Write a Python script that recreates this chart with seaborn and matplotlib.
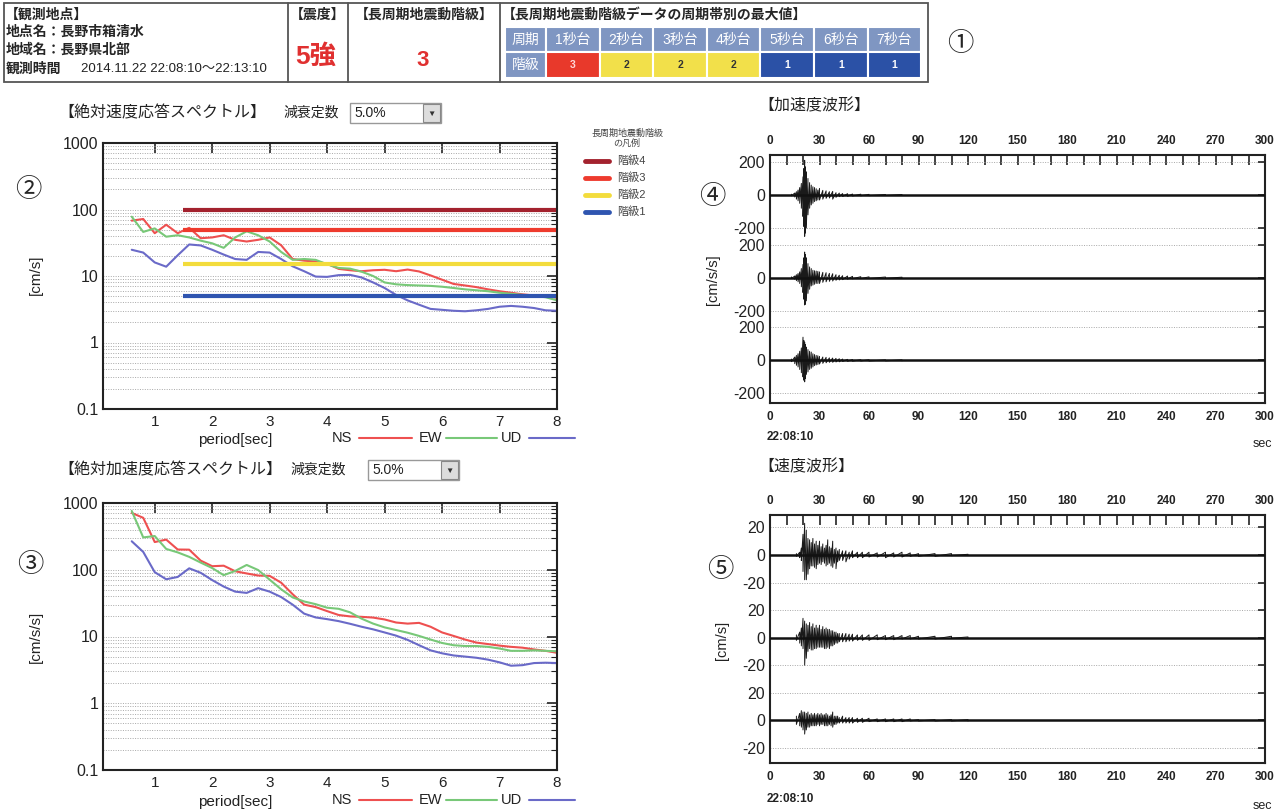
import matplotlib
matplotlib.use('Agg')
import matplotlib.pyplot as plt
import seaborn as sns
import pandas as pd
from matplotlib.patches import Rectangle
from matplotlib.ticker import LogLocator, NullFormatter

# ---- header info ----
station_lines = ['地点名：長野市箱清水', '地域名：長野県北部']
obs_time = '2014.11.22 22:08:10～22:13:10'
shindo = '5強'
lp_grade = '3'
bands = ['1秒台', '2秒台', '3秒台', '4秒台', '5秒台', '6秒台', '7秒台']
band_grades = [3, 2, 2, 2, 1, 1, 1]

# ---- response spectra (period in sec) ----
periods = [0.6, 0.8, 1.0, 1.2, 1.4, 1.6, 1.8, 2.0, 2.2, 2.4, 2.6, 2.8, 3.0, 3.2, 3.4, 3.6, 3.8, 4.0, 4.2,
           4.4, 4.6, 4.8, 5.0, 5.2, 5.4, 5.6, 5.8, 6.0, 6.2, 6.4, 6.6, 6.8, 7.0, 7.2, 7.4, 7.6, 7.8, 8.0]
vel_ns = [68, 72, 44, 59, 44, 53, 37, 38, 41, 35, 33, 35, 38, 29, 18, 17, 16.5, 15.3, 12.8, 12.2,
          11.8, 12.2, 12.4, 11.8, 12.5, 11.7, 10.2, 8.8, 7.6, 7.2, 6.8, 6.3, 5.9, 5.6, 5.3, 5.1, 5.0, 4.7]
vel_ew = [78, 46, 52, 39, 41, 38, 34, 31, 26.5, 38, 47, 41, 33, 23, 17.5, 18, 17.5, 15, 13.2, 12.9,
          11.6, 10, 8.0, 7.5, 7.3, 7.2, 7.1, 6.9, 6.6, 6.3, 6.1, 5.9, 5.6, 5.4, 5.2, 5.0, 4.8, 4.3]
vel_ud = [24.8, 22.5, 16, 13.8, 20.5, 29.8, 28.8, 24.8, 21, 18, 17.5, 23, 22.5, 18, 14, 11.8, 9.8, 9.7, 10.3, 10.4,
          9.5, 8.0, 6.6, 5.2, 4.3, 3.7, 3.2, 3.1, 3.0, 2.95, 3.05, 3.2, 3.45, 3.55, 3.45, 3.3, 3.05, 3.0]
acc_ns = [710, 600, 260, 283, 201, 200, 137, 113, 115, 95, 88, 82, 81, 64, 43, 30, 27.6, 24, 21, 20,
          19.7, 19.2, 18, 16.2, 15.6, 16, 14, 11.5, 10.2, 9.0, 8.1, 7.7, 7.3, 7.0, 6.8, 6.4, 6.1, 5.7]
acc_ew = [760, 305, 320, 205, 182, 156, 128, 106, 83, 96, 118, 99, 71, 51, 38.5, 33.5, 30.5, 27, 26, 23,
          18.5, 15.6, 13.7, 12.5, 11.4, 10.2, 9.0, 8.0, 7.4, 7.2, 7.2, 7.0, 6.6, 6.1, 6.1, 6.2, 6.1, 6.0]
acc_ud = [267, 185, 92, 72, 78, 105, 90, 70, 56, 47, 45, 53, 47, 39, 30, 22, 19.3, 18.2, 17, 15.5,
          14, 12.8, 11.5, 10.3, 8.9, 7.4, 6.2, 5.6, 5.2, 5.0, 4.8, 4.5, 4.1, 3.65, 3.72, 4.0, 4.05, 4.0]

grade_names = ['階級4', '階級3', '階級2', '階級1']
grade_levels = [100, 50, 15, 5]
grade_start = 1.5

# ---- waveforms: peak values (up / down) read at each time ----
acc_t = [13, 15, 16, 17, 18, 19, 20, 20.5, 21, 21.5, 22, 23, 24, 25, 26, 27, 28, 29, 30, 32,
         34, 36, 38, 40, 42, 44, 47, 50, 55, 60, 70, 80]
acc_ns_up = [5, 12, 20, 30, 45, 70, 110, 160, 210, 170, 140, 100, 75, 60, 50, 45, 38, 30, 40, 28,
             25, 20, 22, 14, 12, 9, 8, 6, 5, 4, 3, 3]
acc_ns_dn = [-5, -12, -25, -35, -50, -80, -130, -190, -250, -230, -200, -120, -80, -60, -50, -40, -35, -30, -30, -25,
             -20, -18, -25, -14, -10, -9, -8, -6, -5, -4, -3, -3]
acc_ew_up = [5, 10, 18, 25, 35, 55, 80, 120, 155, 140, 120, 85, 65, 55, 45, 42, 40, 38, 35, 32,
             30, 26, 24, 18, 15, 12, 10, 8, 6, 5, 4, 3]
acc_ew_dn = [-5, -10, -18, -25, -35, -55, -90, -130, -165, -160, -140, -95, -70, -50, -45, -40, -35, -35, -35, -28,
             -25, -22, -20, -16, -14, -12, -9, -7, -6, -5, -4, -3]
acc_ud_up = [8, 20, 30, 40, 55, 75, 140, 120, 110, 95, 80, 65, 55, 50, 40, 35, 30, 28, 24, 20,
             18, 15, 14, 12, 10, 8, 6, 5, 4, 4, 3, 3]
acc_ud_dn = [-8, -20, -30, -40, -55, -75, -100, -120, -130, -110, -85, -70, -55, -48, -40, -32, -28, -25, -22, -18,
             -15, -12, -12, -10, -9, -7, -6, -5, -4, -4, -3, -3]

vel_t = [16, 18, 19, 20, 21, 22, 23, 24, 25, 26, 27, 28, 29, 30, 31, 32, 33, 34, 35, 36,
         37, 38, 39, 40, 41, 42, 44, 46, 48, 50, 53, 56, 60, 65, 70, 75, 80, 85, 90, 100, 110, 120]
vel_ns_up = [1, 2, 5, 15, 23, 18, 12, 11, 9, 12, 8, 10, 7, 10, 6, 8, 5, 7, 11, 6,
             5, 10, 4, 5, 3, 4, 3, 3, 2, 3, 2, 2, 2, 1.5, 2, 1.5, 2, 1.5, 1, 1, 1, 0.5]
vel_ns_dn = [-1, -2, -4, -12, -18, -18, -14, -10, -8, -8, -9, -10, -7, -6, -7, -5, -6, -8, -7, -6,
             -8, -9, -6, -10, -5, -4, -4, -5, -3, -2, -2, -2, -1.5, -1.5, -2, -1.5, -1.5, -1, -1, -1, -0.5, -0.5]
vel_ew_up = [2, 4, 7, 14, 12, 10, 9, 11, 8, 10, 7, 9, 7, 9, 6, 8, 6, 7, 6, 6,
             5, 5, 4, 4, 3, 3, 3, 3, 2.5, 2.5, 2, 2, 2, 2, 1.5, 1.5, 1.5, 1.5, 1, 1, 1, 0.5]
vel_ew_dn = [-2, -4, -6, -8, -20, -15, -10, -8, -9, -9, -8, -8, -7, -7, -7, -7, -8, -8, -7, -8,
             -6, -6, -5, -4, -4, -3, -3, -3, -2.5, -2.5, -2, -2, -2, -1.5, -1.5, -1.5, -1, -1, -1, -1, -0.5, -0.5]
vel_ud_up = [3, 5, 7, 6, 6, 5, 6, 4, 5, 4, 5, 4, 5, 4, 5, 4, 4, 5, 4, 3,
             4, 6, 3, 3, 3, 2, 3, 2, 2, 2, 1.5, 1.5, 1.5, 1, 1, 1, 1, 1, 0.5, 0.5, 0.5, 0.5]
vel_ud_dn = [-3, -4, -5, -7, -10, -7, -5, -5, -4, -4, -4, -4, -3, -4, -3, -3, -4, -4, -4, -3,
             -4, -5, -3, -3, -2, -2, -2, -2, -2, -2, -1.5, -1.5, -1, -1, -1, -1, -1, -0.5, -0.5, -0.5, -0.5, -0.5]

comp_colors = {'NS': '#ee5050', 'EW': '#78c878', 'UD': '#6a6ac8'}
grade_colors = ['#a3222e', '#ee3b2e', '#f3dc3c', '#2f55b0']
cell_colors = {3: '#e8392b', 2: '#f2e04a', 1: '#2b51a6'}
cell_text = {3: '#ffd8d8', 2: '#333333', 1: '#ffffff'}

sns.set_style('white')
plt.rcParams['font.family'] = ['Liberation Sans', 'Noto Sans CJK JP']

W, H = 1287, 811
fig = plt.figure(figsize=(W / 100, H / 100), dpi=100)

# pixel canvas for header, titles and notes
bg = fig.add_axes([0, 0, 1, 1])
bg.set_xlim(0, W)
bg.set_ylim(H, 0)
bg.axis('off')


def px(l, t, r, b):
    return [l / W, 1 - b / H, (r - l) / W, (b - t) / H]


# ---------- header table ----------
bg.add_patch(Rectangle((4, 3), 924, 79, fill=False, ec='#555555', lw=1.3))
for xx in [288, 348, 500]:
    bg.plot([xx, xx], [3, 82], color='#555555', lw=1.3)
bg.text(5, 15, '【観測地点】', fontsize=10, fontweight='bold', va='center')
for i, s in enumerate(station_lines):
    bg.text(6, 32 + i * 18, s, fontsize=10, fontweight='bold', va='center')
bg.text(6, 69, '観測時間', fontsize=10, fontweight='bold', va='center')
bg.text(81, 69, obs_time, fontsize=9.5, va='center', color='#222222')
bg.text(318, 15, '【震度】', fontsize=10, fontweight='bold', va='center', ha='center')
bg.text(316, 57, shindo, fontsize=19, fontweight='bold', va='center', ha='center', color='#e03030')
bg.text(424, 15, '【長周期地震動階級】', fontsize=10, fontweight='bold', va='center', ha='center')
bg.text(423, 60, lp_grade, fontsize=16, fontweight='bold', va='center', ha='center', color='#e03030')
bg.text(502, 15, '【長周期地震動階級データの周期帯別の最大値】', fontsize=10, fontweight='bold', va='center')

head_c = '#7f96c2'
col_w = 53.6
bg.add_patch(Rectangle((505, 27), 41, 25, fc=head_c, ec='white', lw=1.5))
bg.add_patch(Rectangle((505, 52), 41, 26, fc=head_c, ec='white', lw=1.5))
bg.text(525.5, 39.5, '周期', color='white', fontsize=10, ha='center', va='center')
bg.text(525.5, 65, '階級', color='white', fontsize=10, ha='center', va='center')
for i, (b, g) in enumerate(zip(bands, band_grades)):
    x0 = 546 + i * col_w
    bg.add_patch(Rectangle((x0, 27), col_w, 25, fc=head_c, ec='white', lw=1.5))
    bg.text(x0 + col_w / 2, 39.5, b, color='white', fontsize=10, ha='center', va='center')
    bg.add_patch(Rectangle((x0, 52), col_w, 26, fc=cell_colors[g], ec='white', lw=1.5))
    bg.text(x0 + col_w / 2, 65, str(g), color=cell_text[g], fontsize=7.5, fontweight='bold',
            ha='center', va='center')

# circled numbers
for s, x, y in [('①', 960, 44), ('②', 28, 190), ('③', 30, 565), ('④', 712, 197), ('⑤', 720, 570)]:
    bg.text(x, y, s, fontsize=19, ha='center', va='center')


# ---------- spectra ----------
def spec_df(ns, ew, ud):
    parts = []
    for name, vals in [('NS', ns), ('EW', ew), ('UD', ud)]:
        parts.append(pd.DataFrame({'period': periods, 'value': vals, 'comp': name}))
    return pd.concat(parts, ignore_index=True)


def style_spec(ax):
    ax.set_yscale('log')
    ax.set_xlim(0.1, 8)
    ax.set_ylim(0.1, 1000)
    ax.set_xticks(range(1, 9))
    ax.yaxis.set_major_locator(LogLocator(base=10))
    ax.yaxis.set_minor_locator(LogLocator(base=10, subs=range(2, 10)))
    ax.yaxis.set_minor_formatter(NullFormatter())
    ax.set_yticks([0.1, 1, 10, 100, 1000])
    ax.set_yticklabels(['0.1', '1', '10', '100', '1000'])
    ax.tick_params(which='both', direction='in', top=True, right=True, labelsize=11.5, colors='#222222')
    ax.tick_params(which='major', length=7, width=1.2)
    ax.tick_params(which='minor', length=4, width=0.8)
    ax.tick_params(axis='x', pad=4, labelsize=11)
    ax.grid(which='both', axis='y', ls=(0, (1, 1.5)), color='#a8a8a8', lw=0.7)
    ax.grid(which='both', axis='x', visible=False)
    for sp in ax.spines.values():
        sp.set_color('#222222')
        sp.set_linewidth(1.5)
    ax.set_xlabel('')
    ax.set_ylabel('')


ax_v = fig.add_axes(px(103, 143, 557, 409))
sns.lineplot(data=spec_df(vel_ns, vel_ew, vel_ud), x='period', y='value', hue='comp',
             palette=comp_colors, lw=1.5, legend=False, ax=ax_v)
for lvl, c in zip(grade_levels, grade_colors):
    ax_v.hlines(lvl, grade_start, 8, color=c, lw=3)
style_spec(ax_v)

ax_a = fig.add_axes(px(103, 503, 557, 770))
sns.lineplot(data=spec_df(acc_ns, acc_ew, acc_ud), x='period', y='value', hue='comp',
             palette=comp_colors, lw=1.5, legend=False, ax=ax_a)
style_spec(ax_a)

# spectrum titles, damping box, labels, legends
for y, title, tw, bx in [(113, '【絶対速度応答スペクトル】', 283, 350), (470, '【絶対加速度応答スペクトル】', 290, 368)]:
    bg.text(58, y, title, fontsize=11.5, va='center', color='#222222')
    bg.text(tw, y, '減衰定数', fontsize=10, va='center', color='#222222')
    bg.add_patch(Rectangle((bx, y - 10), 91, 20, fc='white', ec='#999999', lw=1))
    bg.add_patch(Rectangle((bx + 73, y - 9), 17, 18, fc='#dddddd', ec='#888888', lw=0.8))
    bg.text(bx + 81.5, y + 1, '▼', fontsize=6, ha='center', va='center', color='#333333')
    bg.text(bx + 4, y, '5.0%', fontsize=10, va='center', color='#222222')

for ly, ylab, yc in [(438, '[cm/s]', 275), (800, '[cm/s/s]', 637)]:
    bg.text(235, ly + 2, 'period[sec]', fontsize=11, ha='center', va='center', color='#222222')
    bg.text(36, yc, ylab, fontsize=11, rotation=90, ha='center', va='center', color='#222222')
    for name, tx, l0, l1 in [('NS', 342, 359, 412), ('EW', 430, 446, 497), ('UD', 511, 529, 575)]:
        bg.text(tx, ly, name, fontsize=10.5, ha='center', va='center', color='#222222')
        bg.plot([l0, l1], [ly, ly], color=comp_colors[name], lw=1.5)

bg.text(627, 133, '長周期地震動階級', fontsize=6.5, ha='center', va='center', color='#444444')
bg.text(627, 143, 'の凡例', fontsize=6.5, ha='center', va='center', color='#444444')
for i, (name, c) in enumerate(zip(grade_names, grade_colors)):
    yy = 161 + i * 17
    bg.plot([585, 609], [yy, yy], color=c, lw=3.5)
    bg.text(617, yy, name, fontsize=8, va='center', color='#444444')


# ---------- waveforms ----------
def zigzag(t, up, dn):
    xs, ys = [], []
    for a, u, d in zip(t, up, dn):
        xs += [a, a]
        ys += [u, d]
    return xs, ys


def wave_axes(rect, traces, t, step, ylim, ticks, labels):
    ax = fig.add_axes(rect)
    offsets = [2 * step, step, 0]
    for off, (up, dn) in zip(offsets, traces):
        xs, ys = zigzag(t, up, dn)
        sns.lineplot(x=xs, y=[v + off for v in ys], sort=False, estimator=None,
                     color='#1a1a1a', lw=0.7, ax=ax)
        ax.axhline(off, color='#111111', lw=1.8, zorder=3)
    ax.set_xlim(0, 300)
    ax.set_ylim(*ylim)
    ax.set_xticks(range(0, 301, 30))
    ax.set_xticks(range(0, 301, 10), minor=True)
    ax.set_yticks(ticks)
    ax.set_yticklabels(labels)
    ax.tick_params(which='both', direction='in', top=True, right=True, labeltop=True,
                   colors='#222222', width=1.2)
    ax.tick_params(which='major', length=7)
    ax.tick_params(which='minor', length=7)
    ax.tick_params(axis='x', labelsize=8.5, pad=6)
    ax.tick_params(axis='y', labelsize=11.5, length=5)
    for tk in ax.xaxis.get_major_ticks():
        tk.label1.set_fontweight('bold')
        tk.label2.set_fontweight('bold')
    ax.grid(axis='y', ls=(0, (1, 1.5)), color='#a8a8a8', lw=0.7)
    ax.grid(axis='x', visible=False)
    for sp in ax.spines.values():
        sp.set_color('#222222')
        sp.set_linewidth(1.5)
    return ax


acc_traces = [(acc_ns_up, acc_ns_dn), (acc_ew_up, acc_ew_dn), (acc_ud_up, acc_ud_dn)]
wave_axes(px(770, 155, 1265, 403), acc_traces, acc_t, 500, (-258, 1242),
          [1200, 1000, 800, 700, 500, 300, 200, 0, -200],
          ['200', '0', '-200', '200', '0', '-200', '200', '0', '-200'])

vel_traces = [(vel_ns_up, vel_ns_dn), (vel_ew_up, vel_ew_dn), (vel_ud_up, vel_ud_dn)]
wave_axes(px(770, 515, 1265, 763), vel_traces, vel_t, 60, (-31, 149),
          [140, 120, 100, 80, 60, 40, 20, 0, -20],
          ['20', '0', '-20', '20', '0', '-20', '20', '0', '-20'])

bg.text(758, 106, '【加速度波形】', fontsize=11.5, va='center', color='#222222')
bg.text(758, 467, '【速度波形】', fontsize=11.5, va='center', color='#222222')
for y0, lab, yc, xl in [(437, '[cm/s/s]', 280, 713), (799, '[cm/s]', 640, 722)]:
    bg.text(790, y0, '22:08:10', fontsize=8.5, fontweight='bold', ha='center', va='center', color='#222222')
    bg.text(1262, y0 + 7, 'sec', fontsize=9, ha='center', va='center', color='#222222')
    bg.text(xl, yc, lab, fontsize=10.5, rotation=90, ha='center', va='center', color='#222222')

fig.savefig('out.png', dpi=100)
